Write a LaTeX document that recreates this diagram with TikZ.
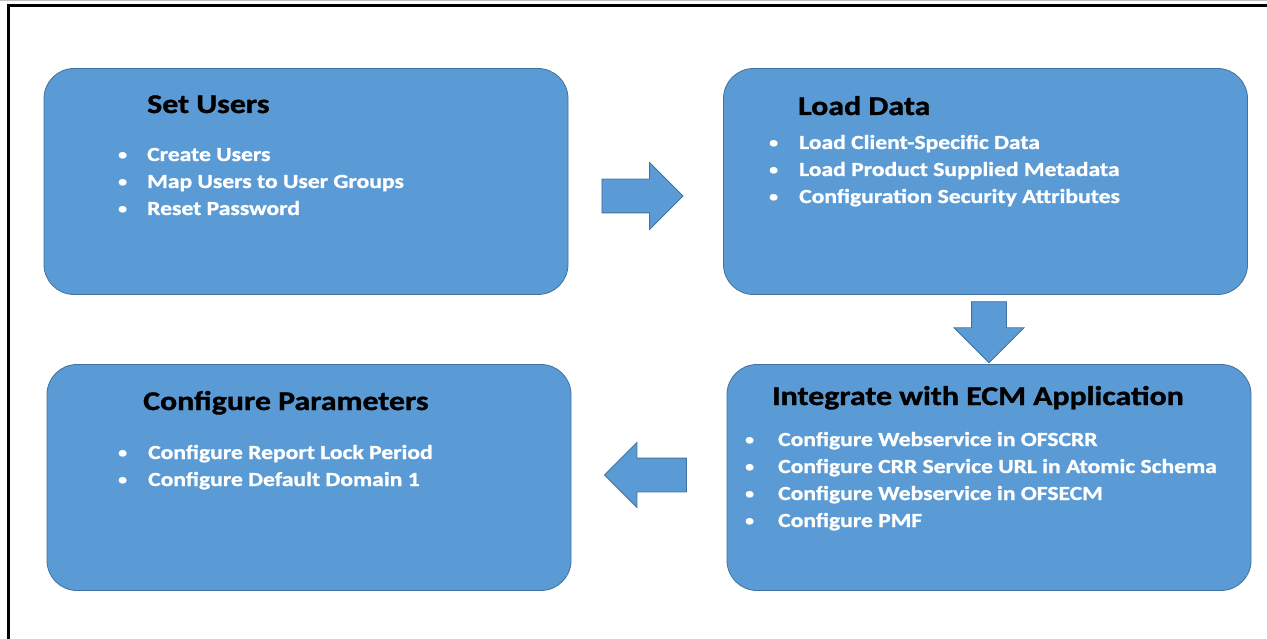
\documentclass[tikz,border=0pt]{standalone}
\usepackage{fontspec}
\setmainfont{Carlito}[FakeStretch=1.18, BoldFont={Carlito Bold}, BoldFeatures={FakeBold=1.2}]
\usetikzlibrary{shapes,arrows,positioning}
\definecolor{boxblue}{HTML}{5B9BD5}
\definecolor{edgeblue}{HTML}{41719C}
\newcommand{\itm}[2][29pt]{\makebox[#1][l]{\raisebox{1.5pt}{\fontsize{15}{15}\selectfont\textbullet}}#2}

\begin{document}
\begin{tikzpicture}[x=1pt,y=-1pt]
\tikzstyle{stage} = [rectangle, draw=edgeblue, fill=boxblue, line width=0.8pt,
    rounded corners=30pt, minimum width=524pt, minimum height=226pt, inner sep=0pt]
\tikzstyle{head} = [anchor=base west, inner sep=0pt, text=black,
    font=\fontsize{27}{32}\selectfont\bfseries]
% base of a list node = baseline of its last line
\tikzstyle{items} = [anchor=base west, inner sep=0pt, text=white, align=left,
    font=\fontsize{20}{27}\selectfont\bfseries]
\tikzstyle{bigarrow} = [single arrow, draw=edgeblue, fill=boxblue, line width=0.8pt]

\useasboundingbox (0,0) rectangle (1267,639);
\draw [black!25, line width=1pt] (0,1) -- (1267,1);
\draw [line width=3pt] (8.5,639) -- (8.5,5.5) -- (1267,5.5);

% the four stages
\node [stage] (users) at (306,181.5) {};
\node [stage] (load) at (985.5,181.5) {};
\node [stage] (ecm) at (989,477.5) {};
\node [stage] (params) at (309,477.5) {};

\node [head] (usersT) at (147,113) {Set Users};
\node [items] (usersL) at (118,215) {\itm{Create Users}\\ \itm{Map Users to User Groups}\\ \itm{Reset Password}};

\node [head] (loadT) at (798,115) {Load Data};
\node [items] (loadL) at (769,203) {\itm[30pt]{Load Client-Specific Data}\\ \itm[30pt]{Load Product Supplied Metadata}\\ \itm[30pt]{Configuration Security Attributes}};

\node [head] (ecmT) at (772,405) {Integrate with ECM Application};
\node [items] (ecmL) at (745,527) {\itm[33pt]{Configure Webservice in OFSCRR}\\ \itm[33pt]{Configure CRR Service URL in Atomic Schema}\\ \itm[33pt]{Configure Webservice in OFSECM}\\ \itm[33pt]{Configure PMF}};

\node [head] (paramsT) at (143,410) {Configure Parameters};
\node [items] (paramsL) at (118,486) {\itm[30pt]{Configure Report Lock Period}\\ \itm[30pt]{Configure Default Domain 1}};

% block arrows between the stages
\node [bigarrow, inner sep=16.5pt, single arrow head extend=16.5pt, minimum height=81pt] (toLoad) at (634,196) {};
\node [bigarrow, inner sep=17pt, single arrow head extend=17.5pt, minimum height=61pt, shape border rotate=270] (toEcm) at (989,323.5) {};
\node [bigarrow, inner sep=16.5pt, single arrow head extend=15.5pt, minimum height=82pt, shape border rotate=180] (toParams) at (654,475) {};

\end{tikzpicture}
\end{document}
